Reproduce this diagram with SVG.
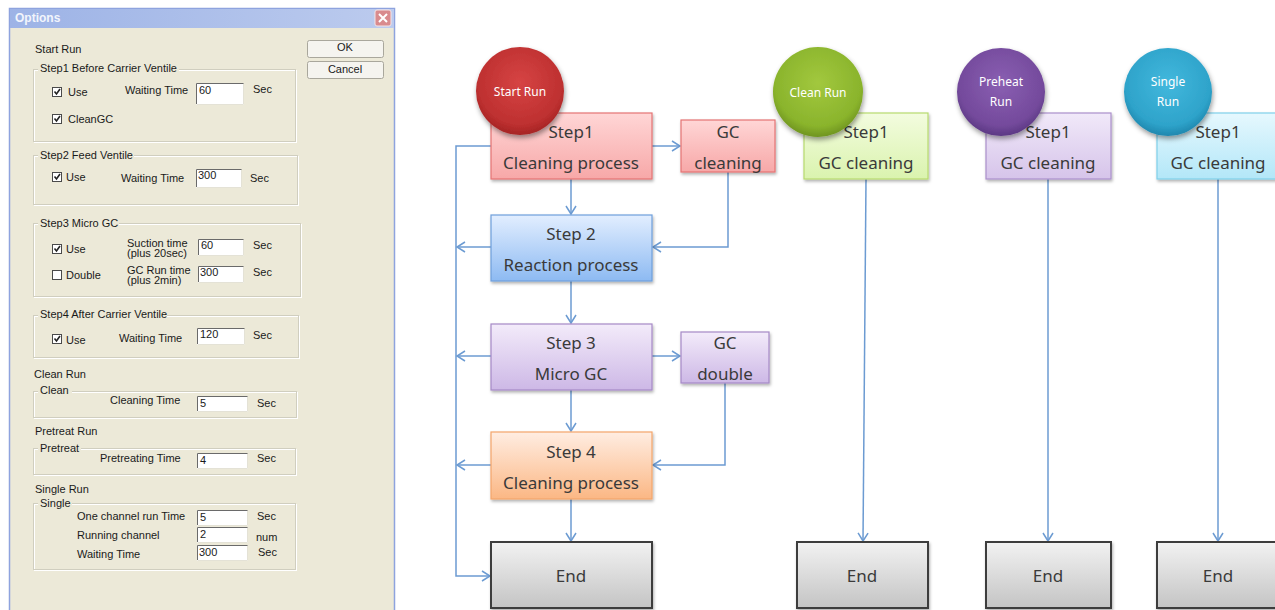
<svg xmlns="http://www.w3.org/2000/svg" width="1275" height="610" viewBox="0 0 1275 610">
  <style>
    .dlg { font-family: "Liberation Sans", Arial, sans-serif; font-size: 11px; fill: #1a1a1a; }
    .ttl { font-family: "Liberation Sans", Arial, sans-serif; font-size: 12px; font-weight: bold; fill: #F2F5FC; }
    .grp { fill: none; stroke: #D0CEBF; stroke-width: 1; }
    .grpw { fill: none; stroke: #FFFFFF; stroke-width: 1; }
    .lblbg { fill: #ECE9D8; }
    .inp { fill: #FFFFFF; stroke: none; }
    .inpd { fill: none; stroke: #6A6A6A; stroke-width: 1; }
    .inpl { fill: none; stroke: #E4E2D6; stroke-width: 1; }
    .chk { fill: #FFFFFF; stroke: #4A4A4A; stroke-width: 1; }
    .tick { fill: none; stroke: #222; stroke-width: 1.6; }
    .btn { fill: #F5F4EF; stroke: #A9A79C; stroke-width: 1; }
    .btxt { font-family: "Liberation Sans", Arial, sans-serif; font-size: 11px; fill: #1a1a1a; text-anchor: middle; }
    .box text, .end text { font-family: "Noto Sans", "Open Sans", sans-serif; font-size: 17px; fill: #3a3a3a; text-anchor: middle; }
    .run text { font-family: "Noto Sans", "Open Sans", sans-serif; font-size: 12px; fill: #FFFFFF; text-anchor: middle; }
    .conn path { fill: none; stroke: #6C9BD2; stroke-width: 1.5; }
    .arr { marker-end: url(#arrow); }
  </style>
  <defs>
    <marker id="arrow" markerUnits="userSpaceOnUse" markerWidth="12" markerHeight="12" refX="9" refY="6" orient="auto">
      <path d="M1,1 L9,6 L1,11" fill="none" stroke="#6C9BD2" stroke-width="1.5"/>
    </marker>
    <filter id="sh" x="-20%" y="-20%" width="140%" height="150%">
      <feDropShadow dx="1" dy="2" stdDeviation="1.5" flood-color="#000" flood-opacity="0.3"/>
    </filter>
    <filter id="shc" x="-20%" y="-20%" width="140%" height="150%">
      <feDropShadow dx="1" dy="3" stdDeviation="2.5" flood-color="#000" flood-opacity="0.4"/>
    </filter>
    <linearGradient id="tbar" x1="0" y1="0" x2="1" y2="0">
      <stop offset="0" stop-color="#9DB3E6"/>
      <stop offset="1" stop-color="#BCCBEE"/>
    </linearGradient>
    <linearGradient id="gRed" x1="0" y1="0" x2="0" y2="1">
      <stop offset="0" stop-color="#FFD6D6"/>
      <stop offset="1" stop-color="#F7A8A8"/>
    </linearGradient>
    <linearGradient id="gBlue" x1="0" y1="0" x2="0" y2="1">
      <stop offset="0" stop-color="#E2EEFF"/>
      <stop offset="1" stop-color="#8DBAF2"/>
    </linearGradient>
    <linearGradient id="gPur" x1="0" y1="0" x2="0" y2="1">
      <stop offset="0" stop-color="#F3EBFA"/>
      <stop offset="1" stop-color="#CDB8E6"/>
    </linearGradient>
    <linearGradient id="gOra" x1="0" y1="0" x2="0" y2="1">
      <stop offset="0" stop-color="#FFEDE2"/>
      <stop offset="1" stop-color="#FBB784"/>
    </linearGradient>
    <linearGradient id="gGray" x1="0" y1="0" x2="0" y2="1">
      <stop offset="0" stop-color="#F2F2F2"/>
      <stop offset="1" stop-color="#C4C4C4"/>
    </linearGradient>
    <linearGradient id="gGrn" x1="0" y1="0" x2="0" y2="1">
      <stop offset="0" stop-color="#F3FCDF"/>
      <stop offset="1" stop-color="#DAF3AE"/>
    </linearGradient>
    <linearGradient id="gLav" x1="0" y1="0" x2="0" y2="1">
      <stop offset="0" stop-color="#F1E9F9"/>
      <stop offset="1" stop-color="#D6C4EA"/>
    </linearGradient>
    <linearGradient id="gCya" x1="0" y1="0" x2="0" y2="1">
      <stop offset="0" stop-color="#E6F8FE"/>
      <stop offset="1" stop-color="#B3E7F8"/>
    </linearGradient>
    <radialGradient id="cRed" cx="0.5" cy="0.4" r="0.6">
      <stop offset="0" stop-color="#D64444"/>
      <stop offset="0.8" stop-color="#BE3030"/>
      <stop offset="1" stop-color="#A52424"/>
    </radialGradient>
    <radialGradient id="cGrn" cx="0.5" cy="0.4" r="0.6">
      <stop offset="0" stop-color="#A2C83E"/>
      <stop offset="0.8" stop-color="#8AB42C"/>
      <stop offset="1" stop-color="#6F9420"/>
    </radialGradient>
    <radialGradient id="cPur" cx="0.5" cy="0.4" r="0.6">
      <stop offset="0" stop-color="#8A5FB2"/>
      <stop offset="0.8" stop-color="#744A9C"/>
      <stop offset="1" stop-color="#5C3884"/>
    </radialGradient>
    <radialGradient id="cCya" cx="0.5" cy="0.4" r="0.6">
      <stop offset="0" stop-color="#42B8DD"/>
      <stop offset="0.8" stop-color="#2EA3CA"/>
      <stop offset="1" stop-color="#1F87AE"/>
    </radialGradient>
  </defs>

  <rect width="1275" height="610" fill="#FFFFFF"/>

  <!-- Options dialog -->
  <g id="dialog">
    <rect x="9.5" y="8.5" width="385" height="605" fill="#ECE9D8" stroke="#8EA3DE" stroke-width="1.5"/>
    <rect x="10" y="9" width="384" height="19" fill="url(#tbar)"/>
    <text class="ttl" x="15" y="22">Options</text>
    <rect x="375" y="10" width="16" height="16" rx="2" fill="#D98B8E" stroke="#F4E4E6" stroke-width="1"/>
    <path d="M379,14 L387,22 M387,14 L379,22" stroke="#FFFFFF" stroke-width="2"/>

    <!-- buttons -->
    <rect class="btn" x="307.5" y="40.5" width="76" height="17" rx="2"/>
    <text class="btxt" x="345" y="51">OK</text>
    <rect class="btn" x="307.5" y="61.5" width="76" height="17" rx="2"/>
    <text class="btxt" x="345" y="73">Cancel</text>

    <text class="dlg" x="35" y="53">Start Run</text>

    <!-- Step1 group -->
    <rect class="grpw" x="34.5" y="70.5" width="262" height="72"/>
    <rect class="grp" x="33.5" y="69.5" width="262" height="72"/>
    <rect class="lblbg" x="38" y="62" width="141" height="12"/>
    <text class="dlg" x="40" y="72">Step1 Before Carrier Ventile</text>
    <rect class="chk" x="52.5" y="87.5" width="9" height="9"/>
    <path class="tick" d="M54.5,91.5 L56.5,94 L60,89"/>
    <text class="dlg" x="68" y="96">Use</text>
    <text class="dlg" x="125" y="94">Waiting Time</text>
    <rect class="inp" x="196" y="83" width="48" height="22"/>
    <path class="inpd" d="M196.5,104 V83.5 H244"/>
    <path class="inpl" d="M196.5,104.5 H243.5 V83.5"/>
    <text class="dlg" x="199" y="94">60</text>
    <text class="dlg" x="253" y="93">Sec</text>
    <rect class="chk" x="52.5" y="114.5" width="9" height="9"/>
    <path class="tick" d="M54.5,118.5 L56.5,121 L60,116"/>
    <text class="dlg" x="68" y="123">CleanGC</text>

    <!-- Step2 group -->
    <rect class="grpw" x="34.5" y="156.5" width="264" height="49"/>
    <rect class="grp" x="33.5" y="155.5" width="264" height="49"/>
    <rect class="lblbg" x="38" y="149" width="96" height="12"/>
    <text class="dlg" x="40" y="159">Step2 Feed Ventile</text>
    <rect class="chk" x="52.5" y="172.5" width="9" height="9"/>
    <path class="tick" d="M54.5,176.5 L56.5,179 L60,174"/>
    <text class="dlg" x="66" y="181">Use</text>
    <text class="dlg" x="121" y="182">Waiting Time</text>
    <rect class="inp" x="196" y="169" width="46" height="19"/>
    <path class="inpd" d="M196.5,187 V169.5 H242"/>
    <path class="inpl" d="M196.5,187.5 H241.5 V169.5"/>
    <text class="dlg" x="198" y="179">300</text>
    <text class="dlg" x="250" y="182">Sec</text>

    <!-- Step3 group -->
    <rect class="grpw" x="34.5" y="224.5" width="267" height="73"/>
    <rect class="grp" x="33.5" y="223.5" width="267" height="73"/>
    <rect class="lblbg" x="38" y="217" width="81" height="12"/>
    <text class="dlg" x="40" y="227">Step3 Micro GC</text>
    <rect class="chk" x="52.5" y="244.5" width="9" height="9"/>
    <path class="tick" d="M54.5,248.5 L56.5,251 L60,246"/>
    <text class="dlg" x="66" y="253">Use</text>
    <text class="dlg" x="127" y="247">Suction time</text>
    <text class="dlg" x="127" y="257">(plus 20sec)</text>
    <rect class="inp" x="198" y="239" width="46" height="17"/>
    <path class="inpd" d="M198.5,255 V239.5 H244"/>
    <path class="inpl" d="M198.5,255.5 H243.5 V239.5"/>
    <text class="dlg" x="201" y="249">60</text>
    <text class="dlg" x="253" y="249">Sec</text>
    <rect class="chk" x="52.5" y="270.5" width="9" height="9"/>
    <text class="dlg" x="66" y="279">Double</text>
    <text class="dlg" x="127" y="274">GC Run time</text>
    <text class="dlg" x="127" y="284">(plus 2min)</text>
    <rect class="inp" x="198" y="266" width="46" height="17"/>
    <path class="inpd" d="M198.5,282 V266.5 H244"/>
    <path class="inpl" d="M198.5,282.5 H243.5 V266.5"/>
    <text class="dlg" x="200" y="276">300</text>
    <text class="dlg" x="253" y="276">Sec</text>

    <!-- Step4 group -->
    <rect class="grpw" x="34.5" y="316.5" width="265" height="42"/>
    <rect class="grp" x="33.5" y="315.5" width="265" height="42"/>
    <rect class="lblbg" x="38" y="308" width="129" height="12"/>
    <text class="dlg" x="40" y="318">Step4 After Carrier Ventile</text>
    <rect class="chk" x="52.5" y="334.5" width="9" height="9"/>
    <path class="tick" d="M54.5,338.5 L56.5,341 L60,336"/>
    <text class="dlg" x="66" y="344">Use</text>
    <text class="dlg" x="119" y="342">Waiting Time</text>
    <rect class="inp" x="197" y="328" width="48" height="17"/>
    <path class="inpd" d="M197.5,344 V328.5 H245"/>
    <path class="inpl" d="M197.5,344.5 H244.5 V328.5"/>
    <text class="dlg" x="200" y="338">120</text>
    <text class="dlg" x="253" y="339">Sec</text>

    <!-- Clean run -->
    <text class="dlg" x="34" y="378">Clean Run</text>
    <rect class="grpw" x="34.5" y="392.5" width="263" height="26"/>
    <rect class="grp" x="33.5" y="391.5" width="263" height="26"/>
    <rect class="lblbg" x="38" y="384" width="34" height="12"/>
    <text class="dlg" x="40" y="394">Clean</text>
    <text class="dlg" x="110" y="404">Cleaning Time</text>
    <rect class="inp" x="197" y="396" width="51" height="16"/>
    <path class="inpd" d="M197.5,411 V396.5 H248"/>
    <path class="inpl" d="M197.5,411.5 H247.5 V396.5"/>
    <text class="dlg" x="200" y="407">5</text>
    <text class="dlg" x="257" y="407">Sec</text>

    <!-- Pretreat run -->
    <text class="dlg" x="35" y="435">Pretreat Run</text>
    <rect class="grpw" x="34.5" y="449.5" width="262" height="26"/>
    <rect class="grp" x="33.5" y="448.5" width="262" height="26"/>
    <rect class="lblbg" x="38" y="441" width="43" height="12"/>
    <text class="dlg" x="40" y="452">Pretreat</text>
    <text class="dlg" x="100" y="462">Pretreating Time</text>
    <rect class="inp" x="197" y="453" width="51" height="16"/>
    <path class="inpd" d="M197.5,468 V453.5 H248"/>
    <path class="inpl" d="M197.5,468.5 H247.5 V453.5"/>
    <text class="dlg" x="200" y="464">4</text>
    <text class="dlg" x="257" y="462">Sec</text>

    <!-- Single run -->
    <text class="dlg" x="35" y="493">Single Run</text>
    <rect class="grpw" x="34.5" y="504.5" width="262" height="66"/>
    <rect class="grp" x="33.5" y="503.5" width="262" height="66"/>
    <rect class="lblbg" x="38" y="497" width="34" height="12"/>
    <text class="dlg" x="40" y="507">Single</text>
    <text class="dlg" x="77" y="520">One channel run Time</text>
    <rect class="inp" x="197" y="510" width="51" height="16"/>
    <path class="inpd" d="M197.5,525 V510.5 H248"/>
    <path class="inpl" d="M197.5,525.5 H247.5 V510.5"/>
    <text class="dlg" x="200" y="521">5</text>
    <text class="dlg" x="257" y="520">Sec</text>
    <text class="dlg" x="77" y="539">Running channel</text>
    <rect class="inp" x="197" y="527" width="51" height="16"/>
    <path class="inpd" d="M197.5,542 V527.5 H248"/>
    <path class="inpl" d="M197.5,542.5 H247.5 V527.5"/>
    <text class="dlg" x="200" y="538">2</text>
    <text class="dlg" x="256" y="541">num</text>
    <text class="dlg" x="77" y="558">Waiting Time</text>
    <rect class="inp" x="197" y="545" width="51" height="16"/>
    <path class="inpd" d="M197.5,560 V545.5 H248"/>
    <path class="inpl" d="M197.5,560.5 H247.5 V545.5"/>
    <text class="dlg" x="199" y="556">300</text>
    <text class="dlg" x="258" y="556">Sec</text>
  </g>

  <!-- connectors -->
  <g id="connectors" class="conn">
    <path class="arr" d="M652,146 H680"/>
    <path class="arr" d="M571,179 V214"/>
    <path class="arr" d="M728,172 V247 H653"/>
    <path class="arr" d="M491,146 H456 V576 H490"/>
    <path class="arr" d="M491,247 H457"/>
    <path class="arr" d="M571,281 V323"/>
    <path class="arr" d="M652,356 H680"/>
    <path class="arr" d="M491,356 H457"/>
    <path class="arr" d="M725,383 V465 H653"/>
    <path class="arr" d="M571,390 V431"/>
    <path class="arr" d="M491,465 H457"/>
    <path class="arr" d="M571,499 V541"/>
    <path class="arr" d="M866,179 L863,541"/>
    <path class="arr" d="M1048,179 V541"/>
    <path class="arr" d="M1218,179 V541"/>
  </g>

  <!-- Start Run flow -->
  <g id="step1" class="box">
    <rect x="491" y="113" width="161" height="66" fill="url(#gRed)" stroke="#E57373" stroke-width="1.2" filter="url(#sh)"/>
    <text x="571" y="138">Step1</text>
    <text x="571" y="169">Cleaning process</text>
  </g>
  <g id="gc-cleaning" class="box">
    <rect x="681" y="120" width="94" height="52" fill="url(#gRed)" stroke="#E57373" stroke-width="1.2" filter="url(#sh)"/>
    <text x="728" y="138">GC</text>
    <text x="728" y="169">cleaning</text>
  </g>
  <g id="start-run" class="run">
    <circle cx="520" cy="91" r="44" fill="url(#cRed)" filter="url(#shc)"/>
    <text x="520" y="96">Start Run</text>
  </g>
  <g id="step2" class="box">
    <rect x="491" y="215" width="161" height="66" fill="url(#gBlue)" stroke="#6E9FDB" stroke-width="1.2" filter="url(#sh)"/>
    <text x="571" y="240">Step 2</text>
    <text x="571" y="271">Reaction process</text>
  </g>
  <g id="step3" class="box">
    <rect x="491" y="324" width="161" height="66" fill="url(#gPur)" stroke="#A689C6" stroke-width="1.2" filter="url(#sh)"/>
    <text x="571" y="349">Step 3</text>
    <text x="571" y="380">Micro GC</text>
  </g>
  <g id="gc-double" class="box">
    <rect x="681" y="332" width="88" height="51" fill="url(#gPur)" stroke="#A689C6" stroke-width="1.2" filter="url(#sh)"/>
    <text x="725" y="349">GC</text>
    <text x="725" y="380">double</text>
  </g>
  <g id="step4" class="box">
    <rect x="491" y="432" width="161" height="67" fill="url(#gOra)" stroke="#F3A56B" stroke-width="1.2" filter="url(#sh)"/>
    <text x="571" y="458">Step 4</text>
    <text x="571" y="489">Cleaning process</text>
  </g>
  <g id="end-start" class="end">
    <rect x="491" y="542" width="161" height="66" fill="url(#gGray)" stroke="#3C3C3C" stroke-width="2" filter="url(#sh)"/>
    <text x="571" y="582">End</text>
  </g>

  <!-- Clean Run flow -->
  <g id="clean-step1" class="box">
    <rect x="804" y="113" width="124" height="66" fill="url(#gGrn)" stroke="#B7DA6E" stroke-width="1.2" filter="url(#sh)"/>
    <text x="866" y="138">Step1</text>
    <text x="866" y="169">GC cleaning</text>
  </g>
  <g id="clean-run" class="run">
    <circle cx="818" cy="92" r="45" fill="url(#cGrn)" filter="url(#shc)"/>
    <text x="818" y="97">Clean Run</text>
  </g>
  <g id="end-clean" class="end">
    <rect x="797" y="542" width="131" height="66" fill="url(#gGray)" stroke="#3C3C3C" stroke-width="2" filter="url(#sh)"/>
    <text x="862" y="582">End</text>
  </g>

  <!-- Preheat Run flow -->
  <g id="preheat-step1" class="box">
    <rect x="986" y="113" width="125" height="66" fill="url(#gLav)" stroke="#AB8FCB" stroke-width="1.2" filter="url(#sh)"/>
    <text x="1048" y="138">Step1</text>
    <text x="1048" y="169">GC cleaning</text>
  </g>
  <g id="preheat-run" class="run">
    <circle cx="1001" cy="92" r="44" fill="url(#cPur)" filter="url(#shc)"/>
    <text x="1001" y="86">Preheat</text>
    <text x="1001" y="106">Run</text>
  </g>
  <g id="end-preheat" class="end">
    <rect x="986" y="542" width="125" height="66" fill="url(#gGray)" stroke="#3C3C3C" stroke-width="2" filter="url(#sh)"/>
    <text x="1048" y="582">End</text>
  </g>

  <!-- Single Run flow -->
  <g id="single-step1" class="box">
    <rect x="1157" y="113" width="125" height="66" fill="url(#gCya)" stroke="#7FD0EA" stroke-width="1.2" filter="url(#sh)"/>
    <text x="1218" y="138">Step1</text>
    <text x="1218" y="169">GC cleaning</text>
  </g>
  <g id="single-run" class="run">
    <circle cx="1168" cy="92" r="44" fill="url(#cCya)" filter="url(#shc)"/>
    <text x="1168" y="86">Single</text>
    <text x="1168" y="106">Run</text>
  </g>
  <g id="end-single" class="end">
    <rect x="1157" y="542" width="125" height="66" fill="url(#gGray)" stroke="#3C3C3C" stroke-width="2" filter="url(#sh)"/>
    <text x="1218" y="582">End</text>
  </g>
</svg>
